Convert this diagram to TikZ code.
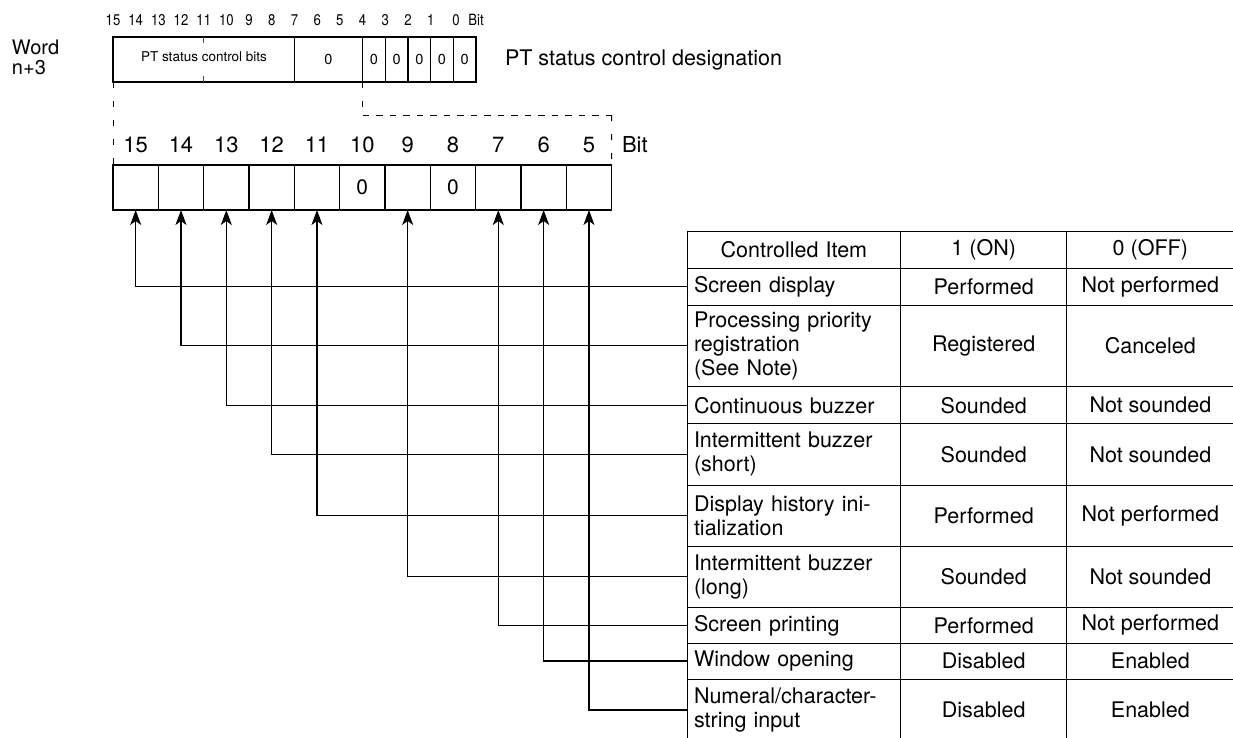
\documentclass[tikz,border=0pt]{standalone}
\usepackage{fontspec}
\setmainfont{TeX Gyre Heros}
\newfontfamily\narrowfont[FakeStretch=0.85]{TeX Gyre Heros}
\usetikzlibrary{arrows.meta}
\newcommand\fsz[2]{\fontsize{#1}{#2}\selectfont}
\newcommand\tblrow[6]{%
  \node[itemcell, minimum height={#3-#2}] (#1) at (793.85,{(#2+#3)/2}) {#4};
  \node[valcell, minimum width=166pt, minimum height={#3-#2}] (#1on) at (983.7,{(#2+#3)/2}) {#5};
  \node[valcell, minimum width=167.3pt, minimum height={#3-#2}] (#1off) at (1150.35,{(#2+#3)/2}) {#6};
}
\begin{document}
\begin{tikzpicture}[x=1pt,y=-1pt,
  every node/.style={inner sep=0pt, outer sep=0pt},
  regline/.style={draw=black, line width=1.1pt},
  dashv/.style={draw=black, line width=1pt, dash pattern=on 6pt off 13pt},
  dashh/.style={draw=black, line width=1pt, dash pattern=on 6.5pt off 7pt},
  bitcell/.style={draw=black, line width=1.2pt, minimum width=45.33pt, minimum height=45pt, font=\fsz{21}{24}},
  bitlbl/.style={font=\fsz{22}{24}},
  toplbl/.style={font=\narrowfont\fsz{15.5}{16}},
  itemcell/.style={draw=black, line width=1pt, text width=199.7pt, inner xsep=7pt, align=left, font=\fsz{21.5}{24}},
  valcell/.style={draw=black, line width=1pt, align=center, font=\fsz{21.5}{24}},
  arr/.style={draw=black, line width=1.1pt, -{Stealth[length=15pt, width=11pt, inset=4pt]}},
]
\useasboundingbox (0,0) rectangle (1233,737);
\clip (0,0) rectangle (1233,737);

% word label
\node[font=\fsz{20}{20}, anchor=base west] (w1) at (12,54) {Word};
\node[font=\fsz{20}{20}, anchor=base west] (w2) at (12,74) {n+3};

% top register
\node[draw=black, line width=1.1pt, minimum width=363pt, minimum height=45pt, anchor=north west] (treg) at (113,37) {};
\foreach \xx in {294.5,362.6,385.3,408,430.7,453.4}
  \draw[regline] (\xx,37) -- (\xx,82);
\draw[draw=black!70, line width=1.1pt] (203.8,37) -- (203.8,43) (203.8,76) -- (203.8,82);
\node[font=\fsz{13.5}{14}] (ptbits) at (204,57) {PT status control bits};
\node[font=\fsz{14.5}{14}] (z75) at (328.5,59) {0};
\foreach \xx [count=\k] in {374,396.6,419.3,442,464.7}
  \node[font=\fsz{14.5}{14}] (zs\k) at (\xx,59) {0};
\node[font=\fsz{21.5}{22}, anchor=west] (desig) at (505,60) {PT status control designation};

% top bit labels
\foreach \b in {15,14,...,1}
  \node[toplbl] (tl\b) at ({113+(15-\b)*22.69},20) {\b};
\node[toplbl] (tl0) at (456,20) {0};
\node[toplbl] (tlbit) at (476,20) {Bit};

% expanded register
\foreach \b [count=\i from 0] in {15,14,...,5}{
  \node[bitcell] (c\b) at ({113+45.33*(\i+0.5)},187.5) {};
  \node[bitlbl] (l\b) at ({113+45.33*(\i+0.5)},145) {\b};
}
\node[font=\fsz{21}{24}] at (c10) {0};
\node[font=\fsz{21}{24}] at (c8) {0};
\node[bitlbl, anchor=west] (lbit) at (622,145) {Bit};

% dashed leaders
\coordinate (dl) at (113,82);
\coordinate (dr) at (362.6,82);
\coordinate (dc) at (362.6,115);
\coordinate (de) at (611.6,115);
\draw[dashv] (dl) -- (c15.north west);
\draw[dashv] (dr) -- (dc);
\draw[dashh] (dc) -- (de);
\draw[dashv] (de) -- (c5.north east);

% table
\node[itemcell, align=center, minimum height=36.6pt] (hdr) at (793.85,250) {Controlled Item};
\node[valcell, minimum width=166pt, minimum height=36.6pt] (hdron) at (983.7,250) {1 (ON)};
\node[valcell, minimum width=167.3pt, minimum height=36.6pt] (hdroff) at (1150.35,250) {0 (OFF)};
\tblrow{r15}{268.3}{305}{Screen display}{Performed}{Not performed}
\tblrow{r14}{305}{386.7}{Processing priority\\registration\\(See Note)}{Registered}{Canceled}
\tblrow{r13}{386.7}{423.7}{Continuous buzzer}{Sounded}{Not sounded}
\tblrow{r12}{423.7}{485}{Intermittent buzzer\\(short)}{Sounded}{Not sounded}
\tblrow{r11}{485}{546}{Display history ini-\\tialization}{Performed}{Not performed}
\tblrow{r9}{546}{607.7}{Intermittent buzzer\\(long)}{Sounded}{Not sounded}
\tblrow{r7}{607.7}{643}{Screen printing}{Performed}{Not performed}
\tblrow{r6}{643}{679}{Window opening}{Disabled}{Enabled}
\tblrow{r5}{679}{741}{Numeral/character-\\string input}{Disabled}{Enabled}

% connectors
\foreach \b in {15,14,13,12,11,9,7,6,5}
  \draw[arr] (r\b.west) -| (c\b.south);
\end{tikzpicture}
\end{document}
